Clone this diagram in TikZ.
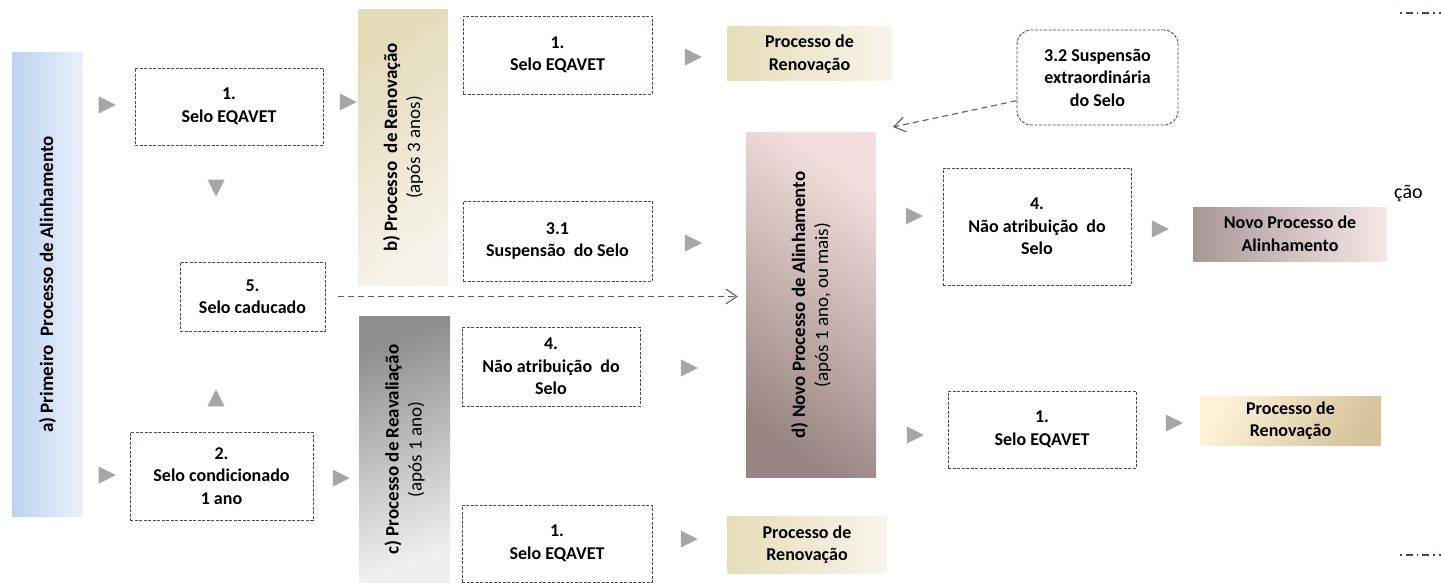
\documentclass[tikz,border=0pt]{standalone}
\usepackage{fontspec}
\setmainfont{Carlito}
\usepackage{tikz}
\usepackage{xcolor}
\usetikzlibrary{shapes.geometric,arrows.meta}

\definecolor{boxline}{HTML}{3D4F6F}
\definecolor{dashline}{HTML}{4F6080}
\definecolor{trigray}{HTML}{A6A6A6}
\definecolor{aleft}{HTML}{BDD2F2}
\definecolor{aright}{HTML}{EAF1FB}
\definecolor{bdark}{HTML}{E4DBB9}
\definecolor{blight}{HTML}{F6F3EA}
\definecolor{cdark}{HTML}{8E8E8E}
\definecolor{clight}{HTML}{F0F0F0}
\definecolor{ddark}{HTML}{9A8585}
\definecolor{dlight}{HTML}{F3DEDE}
\definecolor{rdark}{HTML}{E6DDB8}
\definecolor{rlight}{HTML}{F8F5EC}
\definecolor{cream}{HTML}{FDF2D8}
\definecolor{tan}{HTML}{D5C39B}
\definecolor{artblue}{HTML}{2E4A7A}

\newcommand{\txtsize}{\fontsize{18}{22.5}\selectfont}
\newcommand{\barsize}{\fontsize{19}{23}\selectfont}

\tikzset{
  selbox/.style={draw=boxline, line width=0.9pt, dash pattern=on 3pt off 1.5pt,
    align=center, inner sep=2pt, font=\txtsize\bfseries},
  bar/.style={inner sep=0pt, draw=none},
  procbox/.style={inner sep=0pt, draw=none, align=center, font=\txtsize\bfseries},
  tri/.style={isosceles triangle, isosceles triangle stretches, fill=trigray,
    draw=none, inner sep=0pt, minimum width=17pt, minimum height=17pt},
  dasharrow/.style={draw=dashline, line width=1.1pt, dash pattern=on 6pt off 4pt,
    -{Straight Barb[length=11pt,width=15pt]}},
}

\begin{document}
\begin{tikzpicture}[x=1pt,y=-1pt]
\useasboundingbox (0,0) rectangle (1441,583);

% bars
\node[bar, minimum width=71pt, minimum height=463pt, left color=aleft, right color=aright] (abar) at (47.5,284.5) {};
\node[rotate=90, font=\barsize\bfseries] (atxt) at (abar) {a) Primeiro~ Processo de Alinhamento};

\node[bar, minimum width=90pt, minimum height=275pt, top color=bdark, bottom color=blight, shading angle=35] (bbar) at (403,147.5) {};
\node[rotate=90, align=center, font=\barsize] (btxt) at (bbar) {\textbf{b) Processo~ de Renovação}\\(após 3 anos)};

\node[bar, minimum width=91pt, minimum height=267pt, top color=cdark, bottom color=clight, shading angle=20] (cbar) at (404.5,449.5) {};
\node[rotate=90, align=center, font=\barsize] (ctxt) at (cbar) {\textbf{c) Processo de Reavaliação}\\(após 1 ano)};

\node[bar, minimum width=130pt, minimum height=344pt, top color=dlight, bottom color=ddark, shading angle=-35] (dbar) at (811,305) {};
\node[rotate=90, align=center, font=\barsize] (dtxt) at (dbar) {\textbf{d) Novo Processo de Alinhamento}\\(após 1 ano, ou mais)};

% dashed boxes
\node[selbox, minimum width=188pt, minimum height=77pt] (sel1) at (229,106.5) {1.\\Selo EQAVET};
\node[selbox, minimum width=145pt, minimum height=69pt] (cad) at (252.5,296.5) {5.\\Selo caducado};
\node[selbox, minimum width=183pt, minimum height=88pt] (cond) at (221.5,476) {2.\\Selo condicionado\\1 ano};
\node[selbox, minimum width=189pt, minimum height=78pt] (bsel) at (557.5,55) {1.\\Selo EQAVET};
\node[selbox, minimum width=189pt, minimum height=80pt] (susp) at (557.5,241) {3.1\\Suspensão~ do Selo};
\node[selbox, minimum width=178pt, minimum height=79pt] (cnao) at (551,366.5) {4.\\Não atribuição~ do\\Selo};
\node[selbox, minimum width=190pt, minimum height=77pt] (csel) at (557,543.5) {1.\\Selo EQAVET};
\node[selbox, minimum width=188pt, minimum height=117pt] (dnao) at (1037,226.5) {4.\\Não atribuição~ do\\Selo};
\node[selbox, minimum width=188pt, minimum height=77pt] (dsel) at (1042,429.5) {1.\\Selo EQAVET};
\node[selbox, rounded corners=14pt, minimum width=161pt, minimum height=95pt] (ext) at (1097.5,77.5) {3.2 Suspensão\\extraordinária\\do Selo};

% result boxes
\node[procbox, minimum width=165pt, minimum height=54pt, left color=rdark, right color=rlight] (bren) at (809.5,54) {Processo de\\Renovação};
\node[procbox, minimum width=160pt, minimum height=57pt, left color=rdark, right color=rlight] (cren) at (807,544.5) {Processo de\\Renovação};
\node[procbox, minimum width=181pt, minimum height=49pt, top color=cream, bottom color=tan, shading angle=60] (dren) at (1290.5,420.5) {Processo de\\Renovação};
\node[procbox, minimum width=194pt, minimum height=54pt, left color=ddark!85, right color=dlight!70!white] (dnovo) at (1290,234) {Novo Processo de\\Alinhamento};

% gray triangles
\node[tri] (t1) at (104,105) {};
\node[tri] (t2) at (104,475) {};
\node[tri, shape border rotate=-90] (t3) at (216,185) {};
\node[tri, shape border rotate=90] (t4) at (216,401) {};
\node[tri] (t5) at (345,102) {};
\node[tri] (t6) at (338,478) {};
\node[tri] (t7) at (690,57) {};
\node[tri] (t8) at (690,243) {};
\node[tri] (t9) at (686,368) {};
\node[tri] (t10) at (686,539) {};
\node[tri] (t11) at (911,216) {};
\node[tri] (t12) at (1157,229) {};
\node[tri] (t13) at (912,435) {};
\node[tri] (t14) at (1171,423) {};

% dashed connectors
\draw[dasharrow, shorten <=13pt, shorten >=8pt] (cad.east) -- (cad.east -| dbar.west);
\coordinate (extend) at (893,127);
\draw[dasharrow] (ext.196) -- (extend);

% fragments at the right edge
\node[font=\fontsize{20}{24}\selectfont, anchor=west, inner sep=0pt] (frag) at (1394,193) {ção};
\coordinate (art1) at (1400,13);
\coordinate (art2) at (1400,555);
\draw[artblue, line width=1.4pt, dash pattern=on 1.5pt off 4pt on 7pt off 4pt] (art1) -- (art1 -| 1441,0);
\draw[artblue, line width=1.4pt, dash pattern=on 1.5pt off 4pt on 7pt off 4pt] (art2) -- (art2 -| 1441,0);
\end{tikzpicture}
\end{document}
